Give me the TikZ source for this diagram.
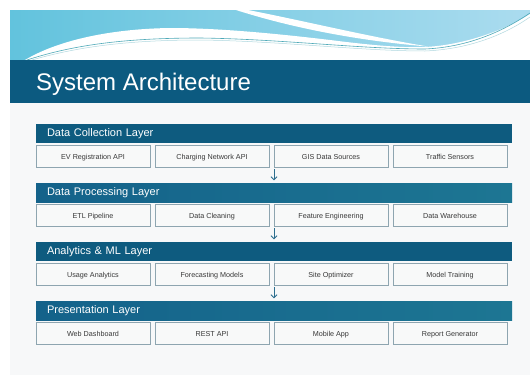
\documentclass[tikz,border=0pt]{standalone}
\usepackage{fontspec}
\setmainfont{Liberation Sans}
\usetikzlibrary{arrows.meta}

\definecolor{slidebg}{HTML}{F7F8F9}
\definecolor{banner}{HTML}{0C5A80}
\definecolor{bardark}{HTML}{0E5B7F}
\definecolor{barlightL}{HTML}{14628A}
\definecolor{barlightR}{HTML}{1D7693}
\definecolor{boxfill}{HTML}{F8F9F9}
\definecolor{boxline}{HTML}{8EA5B0}
\definecolor{boxtext}{HTML}{383838}
\definecolor{arrowc}{HTML}{2C6E8E}
\definecolor{skyL}{HTML}{62C3DD}
\definecolor{skyR}{HTML}{ABDCEF}
\definecolor{wavetealc}{HTML}{4FA9B8}

\tikzset{
  layerbar/.style={fill=bardark, text=white, font=\fontsize{11}{13}\selectfont,
    text width=454pt, inner xsep=11pt, inner ysep=0pt, minimum height=19pt, align=left},
  layerbarlight/.style={layerbar, fill=none, left color=barlightL, right color=barlightR},
  modbox/.style={draw=boxline, fill=boxfill, line width=0.8pt, text=boxtext,
    font=\fontsize{7.2}{8.5}\selectfont, minimum width=114pt, minimum height=21.5pt,
    inner sep=0pt, text height=1.55ex, text depth=0.3ex},
  flowarrow/.style={draw=arrowc, line width=0.9pt, -{Straight Barb[length=3pt,width=6pt]},
    shorten <=1.5pt, shorten >=2.5pt}
}

\begin{document}
\begin{tikzpicture}[x=1pt,y=-1pt]
\useasboundingbox (0,0) rectangle (530,375);
\fill[white] (0,0) rectangle (530,375);
\fill[slidebg] (10,10) rectangle (530,375);

% sky band
\shade[left color=skyL, right color=skyR] (10,10) rectangle (530,60);
% white ground below the wave crest
\fill[white] (25,60) .. controls (55,42) and (105,29) .. (170,28)
  .. controls (220,28) and (280,34) .. (330,40)
  .. controls (370,45) and (400,48) .. (425,47)
  .. controls (465,45) and (505,30) .. (530,14) -- (530,60) -- cycle;
% thin white streak in the sky
\fill[white] (248,10) .. controls (300,20) and (370,37) .. (428,46.5)
  .. controls (360,41) and (292,28) .. (236,10) -- cycle;
% teal lines along the wave
\draw[wavetealc, line width=0.6pt] (27,60) .. controls (70,46) and (120,38) .. (200,38)
  .. controls (280,39) and (360,49) .. (425,49)
  .. controls (470,47) and (505,30) .. (530,13);
\draw[wavetealc!45, line width=0.5pt] (32,60) .. controls (75,47.5) and (125,40) .. (200,40)
  .. controls (280,41) and (360,51) .. (425,51)
  .. controls (472,49) and (507,33) .. (530,17);

% title banner
\fill[banner] (10,60) rectangle (530,103);
\node[anchor=base west, text=white, font=\fontsize{24}{26}\selectfont, inner sep=0pt]
  (title) at (36,90) {System Architecture};

% layer 1
\node[layerbar] (L1) at (274,133.5) {Data Collection Layer};
\node[modbox] (B11) at (93,156.5) {EV Registration API};
\node[modbox] (B12) at (212,156.5) {Charging Network API};
\node[modbox] (B13) at (331,156.5) {GIS Data Sources};
\node[modbox] (B14) at (450,156.5) {Traffic Sensors};

% layer 2
\node[layerbarlight] (L2) at (274,192.5) {Data Processing Layer};
\node[modbox] (B21) at (93,215.5) {ETL Pipeline};
\node[modbox] (B22) at (212,215.5) {Data Cleaning};
\node[modbox] (B23) at (331,215.5) {Feature Engineering};
\node[modbox] (B24) at (450,215.5) {Data Warehouse};

% layer 3
\node[layerbar] (L3) at (274,251.5) {Analytics \& ML Layer};
\node[modbox] (B31) at (93,274.5) {Usage Analytics};
\node[modbox] (B32) at (212,274.5) {Forecasting Models};
\node[modbox] (B33) at (331,274.5) {Site Optimizer};
\node[modbox] (B34) at (450,274.5) {Model Training};

% layer 4
\node[layerbarlight] (L4) at (274,310.5) {Presentation Layer};
\node[modbox] (B41) at (93,333.5) {Web Dashboard};
\node[modbox] (B42) at (212,333.5) {REST API};
\node[modbox] (B43) at (331,333.5) {Mobile App};
\node[modbox] (B44) at (450,333.5) {Report Generator};

% flow between layers
\draw[flowarrow] (L1.center |- B13.south) -- (L2.north);
\draw[flowarrow] (L2.center |- B23.south) -- (L3.north);
\draw[flowarrow] (L3.center |- B33.south) -- (L4.north);
\end{tikzpicture}
\end{document}
